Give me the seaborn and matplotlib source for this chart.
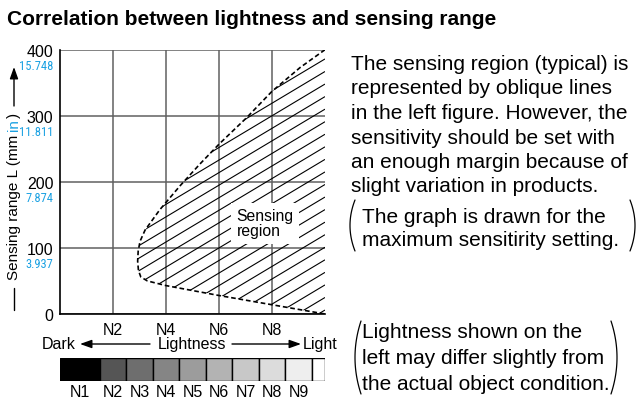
#!/usr/bin/env python3
"""Sensing range vs. object lightness (typical sensing region)."""

import matplotlib
matplotlib.use("Agg")
import matplotlib.font_manager as fm
import matplotlib.pyplot as plt
import numpy as np
import pandas as pd
import seaborn as sns
from matplotlib.collections import LineCollection
from matplotlib.lines import Line2D
from matplotlib.patches import Polygon

W, H = 640, 406

TITLE = "Correlation between lightness and sensing range"

# dashed outline of the sensing region, from top right, round the nose, to bottom right
BOUND_X = [10.0, 9.06, 8.0, 7.04, 6.0, 5.28, 4.53, 3.77, 3.21, 3.02, 2.95,
           2.93, 2.96, 3.05, 3.3, 4.0, 6.0, 8.0, 10.0]
BOUND_Y = [400, 373, 337, 297, 257, 227, 194, 158, 127, 110, 95,
           80, 66, 56, 50, 43, 28, 14, 0]

X_TICKS = [2, 4, 6, 8]
X_LABELS = ["N2", "N4", "N6", "N8"]
Y_TICKS = [0, 100, 200, 300, 400]
Y_INCH = ["", "3.937", "7.874", "11.811", "15.748"]

SCALE_NAMES = ["N1", "N2", "N3", "N4", "N5", "N6", "N7", "N8", "N9"]
SCALE_VALUES = [1, 2, 3, 4, 5, 6, 7, 8, 9]
SCALE_GRAYS = ["#000000", "#555555", "#6e6e6e", "#858585", "#9c9c9c",
               "#b3b3b3", "#c8c8c8", "#dcdcdc", "#eeeeee"]

NOTE_MAIN = [
    "The sensing region (typical) is",
    "represented by oblique lines",
    "in the left figure. However, the",
    "sensitivity should be set with",
    "an enough margin because of",
    "slight variation in products.",
]
NOTE_SETTING = ["The graph is drawn for the", "maximum sensitirity setting."]
NOTE_LIGHTNESS = ["Lightness shown on the", "left may differ slightly from",
                  "the actual object condition."]

BLUE = "#1ba1e2"
GRID = "#606060"


def fx(px):
    return px / W


def fy(py):
    return 1 - py / H


def paren(fig, x_edge, y_top, y_bot, side, bulge=5):
    t = np.linspace(-1, 1, 40)
    yc, half = (y_top + y_bot) / 2, (y_bot - y_top) / 2
    xs = x_edge + side * bulge * t ** 2
    ys = yc + half * t
    fig.add_artist(Line2D(fx(xs), fy(ys), transform=fig.transFigure,
                          color="black", lw=0.9))


def pick_narrow():
    """Find a condensed sans face for the small inch labels, if one exists."""
    fonts = fm.fontManager.ttflist
    names = {f.name for f in fonts}
    for cand in ["Liberation Sans Narrow", "Arial Narrow", "Roboto Condensed",
                 "Noto Sans Condensed", "Open Sans Condensed",
                 "DejaVu Sans Condensed"]:
        if cand in names:
            return dict(family=[cand, "DejaVu Sans"]), 9.0
    for f in fonts:
        if f.weight in ("normal", 400) and f.style == "normal" and \
                f.stretch in ("condensed", "semi-condensed", "extra-condensed"):
            return dict(family=[f.name, "DejaVu Sans"], stretch=f.stretch), 9.0
    return dict(family=["Liberation Sans", "DejaVu Sans"]), 7.6


sns.set_style("white")
plt.rcParams["font.family"] = ["Liberation Sans", "DejaVu Sans"]
plt.rcParams["text.color"] = "black"
plt.rcParams["axes.labelcolor"] = "black"
plt.rcParams["xtick.color"] = "black"
plt.rcParams["ytick.color"] = "black"
inch_font, inch_size = pick_narrow()

fig = plt.figure(figsize=(W / 100, H / 100), dpi=100)
ax = fig.add_axes([fx(60), fy(315), fx(265), (315 - 50.7) / H])

# region outline
df = pd.DataFrame({"lightness": BOUND_X, "range": BOUND_Y})
sns.lineplot(data=df, x="lightness", y="range", sort=False, estimator=None,
             color="black", lw=1.2, ax=ax, zorder=4)
ax.lines[-1].set_linestyle((0, (2.8, 1.7)))

# oblique hatching clipped to the region
region = Polygon(np.column_stack([BOUND_X, BOUND_Y]), closed=True,
                 fc="none", ec="none")
ax.add_patch(region)
slope, step = 24.0, 19.0
offsets = np.arange(386 - 240 - step * 30, 400 + step, step)
segs = [[(0, c), (10, c + slope * 10)] for c in offsets]
hatch = LineCollection(segs, colors="black", linewidths=0.8, zorder=3)
ax.add_collection(hatch)
hatch.set_clip_path(region)

ax.text(7.74, 137, "Sensing\nregion", ha="center", va="center",
        multialignment="left", fontsize=11.3, linespacing=1.0, zorder=5,
        bbox=dict(fc="white", ec="none", boxstyle="square,pad=0.35"))

ax.set_xlim(0, 10)
ax.set_ylim(0, 400)
ax.set_xticks(X_TICKS, X_LABELS)
ax.set_yticks(Y_TICKS)
ax.set_xlabel("")
ax.set_ylabel("")
ax.grid(True, color=GRID, lw=1.1)
ax.set_axisbelow(True)
ax.tick_params(axis="both", length=3.6, width=1.0, color=GRID,
               labelsize=11.5, labelcolor="black")
ax.tick_params(axis="x", pad=2.2)
ax.tick_params(axis="y", pad=1.2)
for side in ("top", "right"):
    ax.spines[side].set_visible(False)
for side in ("left", "bottom"):
    ax.spines[side].set_color("black")
    ax.spines[side].set_linewidth(1.2)

for v, lbl in zip(Y_TICKS, Y_INCH):
    if lbl:
        ax.annotate(lbl, xy=(0, v), xycoords=ax.get_yaxis_transform(),
                    xytext=(-4.8, -11.2), textcoords="offset points",
                    ha="right", va="center", color=BLUE, fontsize=inch_size,
                    **inch_font)

# lightness strip under the chart
axb = fig.add_axes([fx(60), fy(382), fx(265), 23 / H])
edges = [0] + [v + 0.5 for v in SCALE_VALUES] + [10]
colors = SCALE_GRAYS + ["#ffffff"]
axb.bar(edges[:-1], [1] * len(colors), width=np.diff(edges), align="edge",
        color=colors, edgecolor="black", linewidth=1.0)
for i, name in enumerate(SCALE_NAMES):
    axb.text((edges[i] + edges[i + 1]) / 2, -0.45, name, ha="center",
             va="center", fontsize=11.5)
axb.set_xlim(0, 10)
axb.set_ylim(0, 1)
axb.axis("off")

# Dark <- Lightness -> Light
row = fy(345)
fig.text(fx(42), row, "Dark", ha="left", va="center", fontsize=11.5)
fig.text(fx(192), row, "Lightness", ha="center", va="center", fontsize=11.5)
fig.text(fx(303), row, "Light", ha="left", va="center", fontsize=11.5)
arrow = dict(arrowstyle="-|>,head_length=0.7,head_width=0.25", color="black",
             lw=1.0, shrinkA=0, shrinkB=0, mutation_scale=10)
fig.add_artist(plt.Annotation("", xy=(fx(80), row), xytext=(fx(150), row),
                              xycoords="figure fraction", arrowprops=arrow))
fig.add_artist(plt.Annotation("", xy=(fx(301), row), xytext=(fx(232), row),
                              xycoords="figure fraction", arrowprops=arrow))

# y label: "— Sensing range L (mm in) ->"
fig.add_artist(Line2D([fx(14), fx(14)], [fy(289), fy(311)],
                      transform=fig.transFigure, color="black", lw=1.0))
fig.canvas.draw()
renderer = fig.canvas.get_renderer()
t1 = fig.text(fx(14), fy(280), "Sensing range L (mm", rotation=90,
              ha="center", va="bottom", fontsize=11)
top = t1.get_window_extent(renderer).y1
t2 = fig.text(fx(14), (top + 4) / H, "in", rotation=90, ha="center",
              va="bottom", fontsize=11, color=BLUE)
top = t2.get_window_extent(renderer).y1
fig.text(fx(14), (top + 0.5) / H, ")", rotation=90, ha="center",
         va="bottom", fontsize=11)
fig.add_artist(plt.Annotation("", xy=(fx(14), fy(68)), xytext=(fx(14), fy(107)),
                              xycoords="figure fraction", arrowprops=arrow))

# title and notes
fig.text(fx(7), fy(25), TITLE, ha="left", va="baseline", fontsize=15,
         fontweight="bold")
for i, line in enumerate(NOTE_MAIN):
    fig.text(fx(351), fy(70 + 24.5 * i), line, ha="left", va="baseline",
             fontsize=15)
for i, line in enumerate(NOTE_SETTING):
    fig.text(fx(361.7), fy(223 + 23.5 * i), line, ha="left", va="baseline",
             fontsize=15)
paren(fig, 350, 201, 252, +1)
paren(fig, 635, 201, 252, -1)
for i, line in enumerate(NOTE_LIGHTNESS):
    fig.text(fx(361.7), fy(338 + 26 * i), line, ha="left", va="baseline",
             fontsize=15)
paren(fig, 355, 322, 395, +1, bulge=6)
paren(fig, 617, 322, 395, -1, bulge=6)

fig.savefig("out.png", dpi=100)
plt.close(fig)
